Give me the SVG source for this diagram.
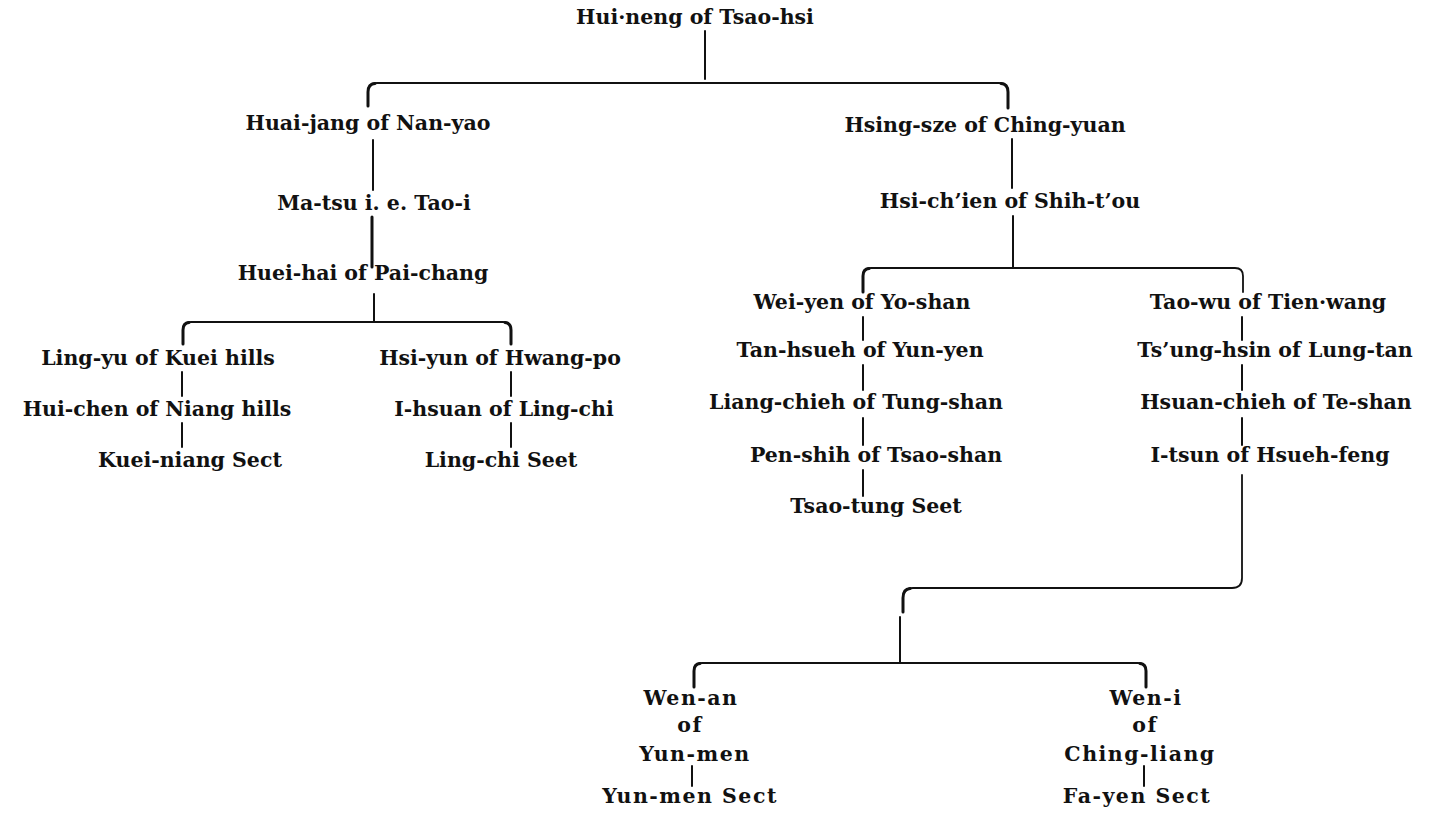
<svg xmlns="http://www.w3.org/2000/svg" width="1446" height="822" viewBox="0 0 1446 822">
<style>
text { font-family: "DejaVu Serif", "Liberation Serif", serif; font-size: 20.5px; font-weight: bold; fill: #111; text-anchor: middle; }
.wide { letter-spacing: 1.5px; }
.ln { stroke: #111; stroke-width: 2; fill: none; stroke-linecap: round; }
.thick { stroke-width: 3; }
.br { stroke: #111; stroke-width: 1.8; fill: none; stroke-linecap: round; stroke-linejoin: round; }
.hk { stroke: #111; stroke-width: 3; fill: none; stroke-linecap: round; }
</style>
<rect width="1446" height="822" fill="#fff"/>
<g id="connectors">
  <path class="br" d="M368,106 L368,92 Q368,83 377,83 L999,83 Q1008,83 1008,92 L1008,108"/>
  <path class="hk" d="M368,106 L368,92 Q368,84 375,83.5 M1001,83.5 Q1008,84 1008,92 L1008,108"/>
  <path class="br" d="M183,344 L183,330 Q183,322 191,322 L503,322 Q511,322 511,330 L511,344"/>
  <path class="hk" d="M183,344 L183,330 Q183,323 189,322.5 M505,322.5 Q511,323 511,330 L511,344"/>
  <path class="br" d="M863,292 L863,276 Q863,268 871,268 L1235,268 Q1243,268 1243,276 L1243,292"/>
  <path class="hk" d="M863,292 L863,276 Q863,269 869,268.5"/>
  <path class="br" d="M1242,475 L1242,578 Q1242,588 1232,588 L913,588 Q903,588 903,598 L903,612"/>
  <path class="hk" d="M903,612 L903,598 Q903,589 910,588.5"/>
  <path class="ln" d="M900,617 V663"/>
  <path class="br" d="M694,687 L694,671 Q694,663 702,663 L1138,663 Q1146,663 1146,671 L1146,687"/>
  <path class="hk" d="M694,687 L694,671 Q694,664 700,663.5 M1140,663.5 Q1146,664 1146,671 L1146,687"/>
  <path class="ln" d="M705,31 V79"/>
  <path class="ln" d="M373,140 V190"/>
  <path class="ln thick" d="M372,217 V267"/>
  <path class="ln" d="M374,294 V321"/>
  <path class="ln" d="M182,372 V396 M182,423 V447"/>
  <path class="ln" d="M511,372 V396 M511,423 V447"/>
  <path class="ln" d="M1012,139 V188"/>
  <path class="ln" d="M1013,216 V268"/>
  <path class="ln" d="M863,317 V340 M863,365 V390 M863,418 V445 M863,470 V496"/>
  <path class="ln" d="M1242,317 V340 M1242,365 V390 M1242,418 V445"/>
  <path class="ln" d="M692,766 V786 M1144,766 V786"/>
</g>
<g id="n-huineng"><text x="695" y="24">Hui·neng of Tsao-hsi</text></g>
<g id="n-huaijang"><text x="368" y="130">Huai-jang of Nan-yao</text></g>
<g id="n-hsingsze"><text x="985" y="132">Hsing-sze of Ching-yuan</text></g>
<g id="n-matsu"><text x="374" y="210">Ma-tsu i. e. Tao-i</text></g>
<g id="n-hsichien"><text x="1010" y="208">Hsi-ch’ien of Shih-t’ou</text></g>
<g id="n-hueihai"><text x="363" y="280">Huei-hai of Pai-chang</text></g>
<g id="n-lingyu"><text x="158" y="365">Ling-yu of Kuei hills</text></g>
<g id="n-hsiyun"><text x="500" y="365">Hsi-yun of Hwang-po</text></g>
<g id="n-huichen"><text x="157" y="416">Hui-chen of Niang hills</text></g>
<g id="n-ihsuan"><text x="504" y="416">I-hsuan  of Ling-chi</text></g>
<g id="n-kueiniang"><text x="190" y="467">Kuei-niang Sect</text></g>
<g id="n-lingchi"><text x="501" y="467">Ling-chi Seet</text></g>
<g id="n-weiyen"><text x="862" y="309">Wei-yen of Yo-shan</text></g>
<g id="n-taowu"><text x="1268" y="309">Tao-wu of Tien·wang</text></g>
<g id="n-tanhsueh"><text x="860" y="357">Tan-hsueh of Yun-yen</text></g>
<g id="n-tsunghsin"><text x="1275" y="357">Ts’ung-hsin of Lung-tan</text></g>
<g id="n-liangchieh"><text x="856" y="409">Liang-chieh of Tung-shan</text></g>
<g id="n-hsuanchieh"><text x="1276" y="409">Hsuan-chieh of Te-shan</text></g>
<g id="n-penshih"><text x="876" y="462">Pen-shih of Tsao-shan</text></g>
<g id="n-itsun"><text x="1270" y="462">I-tsun of Hsueh-feng</text></g>
<g id="n-tsaotung"><text x="876" y="513">Tsao-tung Seet</text></g>
<g id="n-wenan"><text class="wide" x="691" y="705">Wen-an</text><text class="wide" x="690" y="732">of</text><text class="wide" x="695" y="761">Yun-men</text></g>
<g id="n-weni"><text class="wide" x="1146" y="705">Wen-i</text><text class="wide" x="1145" y="732">of</text><text class="wide" x="1140" y="761">Ching-liang</text></g>
<g id="n-yunmensect"><text class="wide" x="690" y="803">Yun-men Sect</text></g>
<g id="n-fayensect"><text class="wide" x="1137" y="803">Fa-yen Sect</text></g>
</svg>
